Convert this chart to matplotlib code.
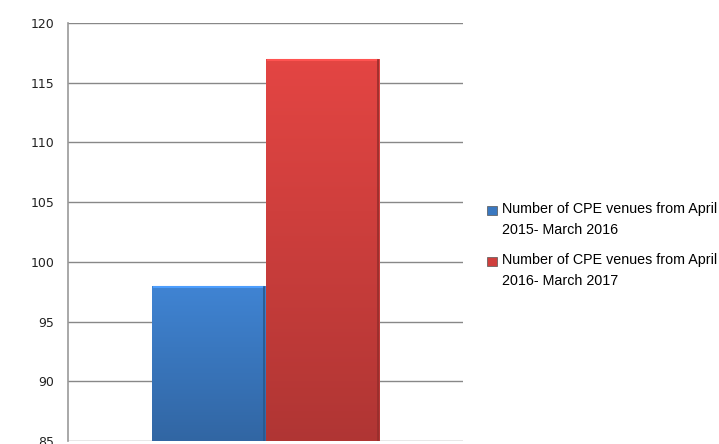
import matplotlib
matplotlib.use("Agg")
import matplotlib.pyplot as plt
import numpy as np
from matplotlib.patches import Patch, Rectangle
from matplotlib.legend_handler import HandlerPatch

series_labels = ["Number of CPE venues from April\n2015- March 2016",
                 "Number of CPE venues from April\n2016- March 2017"]
values = [98, 117]
colors = ["#3a78c0", "#cf3f3d"]
yticks = [85, 90, 95, 100, 105, 110, 115, 120]

fig = plt.figure(figsize=(7.19, 4.44), dpi=100)
ax = fig.add_axes([0.0946, 0.0068, 0.5494, 0.9414])

positions = [-0.5, 0.5]
bars = ax.bar(positions, [v - 85 for v in values], bottom=85, width=1.0,
              color=colors, zorder=3, edgecolor="none")

# gradient shading on bars
grad = np.linspace(0, 1, 256).reshape(-1, 1)
for b, c in zip(bars, colors):
    rgb = np.array(matplotlib.colors.to_rgb(c))
    top = np.clip(rgb * 1.10, 0, 1)
    bot = rgb * 0.85
    img = bot[None, None, :] * (1 - grad[:, :, None]) + top[None, None, :] * grad[:, :, None]
    x0, y0 = b.get_x(), b.get_y()
    w, h = b.get_width(), b.get_height()
    im = ax.imshow(img, extent=[x0, x0 + w, y0, y0 + h], origin="lower",
                   aspect="auto", zorder=3.5)
    im.set_clip_path(b)
    ax.plot([x0 + 0.02, x0 + w - 0.02], [y0 + h - 0.12, y0 + h - 0.12],
            color=np.clip(top * 1.2, 0, 1), lw=1.5, zorder=4)
    ax.plot([x0 + w - 0.01, x0 + w - 0.01], [y0, y0 + h - 0.1],
            color=bot * 0.85, lw=1.2, zorder=4)
ax.set_xlim(-1.737, 1.737)
ax.set_ylim(85, 120)

ax.set_yticks(yticks)
ax.set_yticklabels([str(t) for t in yticks], fontsize=9, color="#222222")
ax.set_xticks([])
ax.tick_params(axis="y", length=0, pad=10)
ax.grid(axis="y", color="#888888", lw=1, zorder=0)
for s in ["top", "right", "bottom"]:
    ax.spines[s].set_visible(False)
ax.spines["left"].set_color("#999999")
ax.spines["left"].set_linewidth(1.2)


def top_patch(legend, orig_handle, xdescent, ydescent, width, height, fontsize):
    return Rectangle((-xdescent, -ydescent + 6.8), width, height)


handles = [Patch(facecolor=colors[0], edgecolor="#555555", lw=0.5),
           Patch(facecolor=colors[1], edgecolor="#555555", lw=0.5)]
leg = fig.legend(handles, series_labels, loc="upper left",
                 bbox_to_anchor=(0.678, 0.545), frameon=False,
                 prop={"family": "Liberation Sans", "size": 10.3},
                 handlelength=0.65, handleheight=0.65, handletextpad=0.35,
                 labelspacing=1.15, borderaxespad=0, borderpad=0,
                 handler_map={Patch: HandlerPatch(patch_func=top_patch)})
for t in leg.get_texts():
    t.set_linespacing(1.6)

fig.savefig("out.png", dpi=100)
